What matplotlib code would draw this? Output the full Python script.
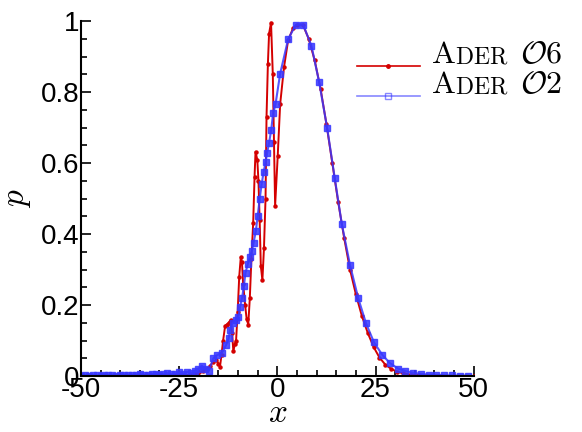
import numpy as np
import matplotlib
matplotlib.use("Agg")
import matplotlib.pyplot as plt
from matplotlib.lines import Line2D
from matplotlib.offsetbox import AnchoredOffsetbox, HPacker, VPacker, TextArea, DrawingArea
from matplotlib.ticker import MultipleLocator

plt.rcParams["font.family"] = ["Liberation Sans", "DejaVu Sans"]
plt.rcParams["mathtext.fontset"] = "cm"
plt.rcParams["axes.unicode_minus"] = False

RED = "#d40000"
BLUE = "#3838ff"

# ADER O2 (blue squares)
x_o2 = [-50, -49, -48, -47, -46, -45, -44, -43, -42, -41,
        -40, -39, -38, -37, -36, -35, -34, -33, -32, -31,
        -30, -29, -28, -27, -26, -25, -24, -23, -22, -21,
        -20.2, -19.2, -18.3, -17.4, -16.3, -15.3, -14.1, -13.1, -12.4, -12.0,
        -11.4, -10.6, -9.9, -9.5, -8.96, -8.5, -8.1, -7.5, -7.0, -6.5,
        -6.06, -5.47, -5.0, -4.5, -4.0, -3.5, -3.0, -2.6, -2.08, -1.57,
        -1.07, -0.46, 0.72, 2.75, 4.7, 6.57, 8.68, 10.65, 12.7, 14.6,
        16.4, 18.5, 20.6, 22.6, 24.6, 26.7, 28.6, 30.7, 32.6, 34.6,
        36.6, 38.5, 40.5, 42.5, 44.5, 46.5, 48.5]
p_o2 = [0.001, 0.002, 0.001, 0.003, 0.002, 0.001, 0.002, 0.003, 0.002, 0.001,
        0.002, 0.004, 0.003, 0.002, 0.004, 0.005, 0.003, 0.004, 0.006, 0.005,
        0.004, 0.006, 0.008, 0.005, 0.007, 0.010, 0.006, 0.012, 0.008, 0.015,
        0.020, 0.029, 0.020, 0.015, 0.050, 0.059, 0.065, 0.086, 0.106, 0.131,
        0.150, 0.158, 0.166, 0.194, 0.221, 0.255, 0.291, 0.316, 0.336, 0.351,
        0.375, 0.408, 0.451, 0.498, 0.540, 0.574, 0.602, 0.628, 0.658, 0.693,
        0.740, 0.766, 0.852, 0.949, 0.990, 0.990, 0.931, 0.828, 0.698, 0.559,
        0.429, 0.313, 0.219, 0.148, 0.095, 0.060, 0.037, 0.021, 0.014, 0.009,
        0.006, 0.004, 0.003, 0.002, 0.0015, 0.001, 0.001]

# ADER O6 (red dots)
x_o6 = [-50, -45, -40, -35, -30, -26, -24, -22, -21, -20,
        -19, -18, -17.2, -16.3, -15.5, -15.0, -14.6, -14.2, -13.8, -13.3,
        -12.9, -12.4, -11.9, -11.5, -11.2, -10.8, -10.5, -10.1, -9.7, -9.3,
        -9.0, -8.7, -8.2, -7.8, -7.4, -7.0, -6.6, -6.15, -5.8, -5.55,
        -5.1, -4.8, -4.5, -4.2, -3.8, -3.4, -3.0, -2.75, -2.4, -2.1,
        -1.6, -1.15, -0.85, -0.56, 0.1, 0.72, 1.7, 2.75, 4.0, 5.0,
        6.5, 8.0, 9.5, 11.0, 12.5, 14.0, 15.5, 17.0, 18.5, 20.0,
        21.5, 23.0, 24.5, 26.0, 27.5, 29.0, 30.5, 32.0, 34.0, 36.0,
        40.0, 45.0, 50.0]
p_o6 = [0.000, 0.000, 0.001, 0.001, 0.002, 0.002, 0.003, 0.003, 0.006, 0.010,
        0.014, 0.020, 0.028, 0.040, 0.045, 0.035, 0.026, 0.060, 0.100, 0.140,
        0.145, 0.150, 0.158, 0.120, 0.070, 0.090, 0.100, 0.180, 0.280, 0.335,
        0.320, 0.260, 0.200, 0.160, 0.145, 0.220, 0.330, 0.430, 0.560, 0.632,
        0.610, 0.550, 0.440, 0.310, 0.270, 0.360, 0.500, 0.730, 0.880, 0.965,
        0.996, 0.850, 0.660, 0.480, 0.620, 0.766, 0.870, 0.946, 0.980, 0.990,
        0.990, 0.950, 0.890, 0.810, 0.710, 0.600, 0.490, 0.390, 0.300, 0.230,
        0.170, 0.122, 0.082, 0.052, 0.032, 0.020, 0.012, 0.008, 0.004, 0.002,
        0.001, 0.000, 0.000]

fig = plt.figure(figsize=(5.82, 4.32), dpi=100)
ax = fig.add_axes([0.139, 0.1296, 0.675, 0.8214])

ax.plot(x_o6, p_o6, color=RED, lw=1.4, marker="o", ms=2.2, mec=RED, mfc=RED, zorder=3)
ax.plot(x_o2, p_o2, color=BLUE, lw=1.5, marker="s", ms=4.5, mec=BLUE, mfc=BLUE,
        alpha=0.85, zorder=4)

ax.set_xlim(-50, 50)
ax.set_ylim(0, 1)
ax.xaxis.set_major_locator(MultipleLocator(25))
ax.xaxis.set_minor_locator(MultipleLocator(5))
ax.yaxis.set_minor_locator(MultipleLocator(0.05))
ax.set_yticks([0, 0.2, 0.4, 0.6, 0.8, 1.0])
ax.set_yticklabels(["0", "0.2", "0.4", "0.6", "0.8", "1"])
ax.tick_params(which="both", direction="in", labelsize=20, width=1.2, top=False, right=False)
ax.tick_params(which="major", length=7, pad=1)
ax.tick_params(which="minor", length=4)
for s in ["top", "right"]:
    ax.spines[s].set_visible(False)
for s in ["left", "bottom"]:
    ax.spines[s].set_linewidth(1.5)
    ax.spines[s].set_zorder(5)

ax.set_xlabel(r"$x$", fontsize=24, labelpad=-4)
ax.set_ylabel(r"$p$", fontsize=24, labelpad=6)


def legend_row(color, marker, ms, alpha, digit):
    da = DrawingArea(45, 10, 0, 5)
    da.add_artist(Line2D([0, 22.5, 45], [-2.0, -2.0, -2.0], color=color, lw=1.2,
                         marker=marker, ms=ms, markevery=[1],
                         mfc="none" if marker == "s" else color,
                         mec=color, alpha=alpha))
    word = HPacker(children=[TextArea(r"$\mathrm{A}$", textprops=dict(size=23)),
                             TextArea(r"$\mathrm{DER}$", textprops=dict(size=17))],
                   sep=0, align="baseline")
    order = TextArea(r"$\mathcal{O}" + digit + "$", textprops=dict(size=23))
    return HPacker(children=[da, word, order], sep=8, align="baseline")


rows = VPacker(children=[legend_row(RED, "o", 2.5, 1.0, "6"),
                         legend_row(BLUE, "s", 4.5, 0.6, "2")],
               sep=0, align="left")
anch = AnchoredOffsetbox(loc="upper left", child=rows, pad=0, borderpad=0, frameon=False,
                         bbox_to_anchor=(357 / 582, 1 - 40 / 432),
                         bbox_transform=fig.transFigure)
ax.add_artist(anch)

fig.savefig("out.png", dpi=100)
